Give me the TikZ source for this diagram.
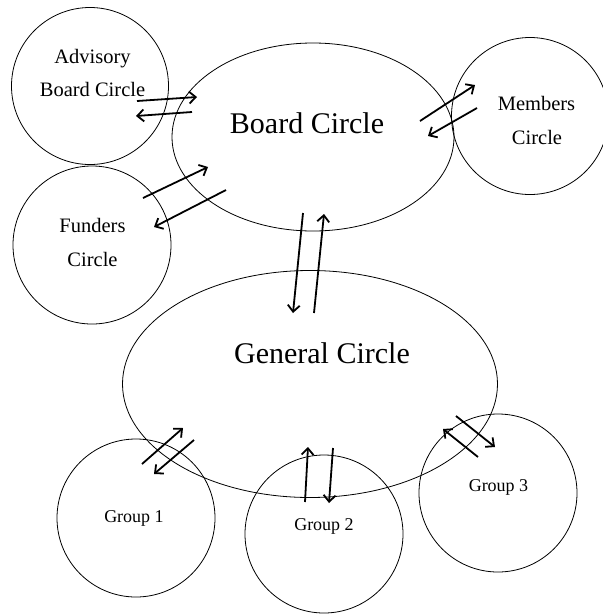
\documentclass[tikz,border=0pt]{standalone}
\usepackage{fontspec}
\setmainfont{Liberation Serif}
\usetikzlibrary{arrows.meta,shapes.geometric}
\begin{document}
\begin{tikzpicture}[x=1pt,y=-1pt,
  circ/.style={draw, line width=0.8pt, circle, minimum size=#1, inner sep=0pt},
  ell/.style={draw, line width=0.8pt, ellipse, inner sep=0pt},
  small/.style={font=\fontsize{20.5}{24}\selectfont, anchor=base, inner sep=0pt},
  big/.style={font=\fontsize{30}{34}\selectfont, anchor=base, inner sep=0pt},
  grp/.style={font=\fontsize{18}{22}\selectfont, anchor=base, inner sep=0pt},
  arr/.style={line width=1.8pt, -{Straight Barb[length=6.5pt,width=12pt]}}]
\useasboundingbox (0,0) rectangle (603,614);
% shapes
\node[ell, minimum width=282, minimum height=188] (board) at (313,137) {};
\node[ell, minimum width=375, minimum height=227] (general) at (310,384) {};
\node[circ=157] (adv) at (90,86) {};
\node[circ=158] (fund) at (92,245) {};
\node[circ=157] (mem) at (530,116) {};
\node[circ=158] (g1) at (136,518) {};
\node[circ=158] (g2) at (324,534) {};
\node[circ=158] (g3) at (498,493) {};
% labels
\node[small] (advA) at (92.5,63) {Advisory};
\node[small] (advB) at (92.5,96) {Board Circle};
\node[small] (fundA) at (92.5,232) {Funders};
\node[small] (fundB) at (92.5,266) {Circle};
\node[small] (memA) at (536.5,110) {Members};
\node[small] (memB) at (537,144) {Circle};
\node[big] (boardT) at (307,133) {Board Circle};
\node[big] (genT) at (322,363) {General Circle};
\node[grp] (g1T) at (134,522) {Group 1};
\node[grp] (g2T) at (324,530) {Group 2};
\node[grp] (g3T) at (498.5,491) {Group 3};
% arrow end points
\coordinate (a1s) at (137,101); \coordinate (a1e) at (197,97);
\coordinate (a2s) at (192,112); \coordinate (a2e) at (136,116);
\coordinate (f1s) at (143,198); \coordinate (f1e) at (208,167);
\coordinate (f2s) at (226,190); \coordinate (f2e) at (154,227);
\coordinate (m1s) at (420,121); \coordinate (m1e) at (475,85);
\coordinate (m2s) at (477,108); \coordinate (m2e) at (428,136);
\coordinate (b1s) at (303,213); \coordinate (b1e) at (293,313);
\coordinate (b2s) at (314,313); \coordinate (b2e) at (324,214);
\coordinate (h1s) at (142,464); \coordinate (h1e) at (183,428);
\coordinate (h2s) at (194,440); \coordinate (h2e) at (154,474);
\coordinate (k1s) at (305,502); \coordinate (k1e) at (308,447);
\coordinate (k2s) at (333,448); \coordinate (k2e) at (329,503);
\coordinate (t1s) at (456,416); \coordinate (t1e) at (495,447);
\coordinate (t2s) at (478,457); \coordinate (t2e) at (443,429);
% arrows
\draw[arr] (a1s) -- (a1e);
\draw[arr] (a2s) -- (a2e);
\draw[arr] (f1s) -- (f1e);
\draw[arr] (f2s) -- (f2e);
\draw[arr] (m1s) -- (m1e);
\draw[arr] (m2s) -- (m2e);
\draw[arr] (b1s) -- (b1e);
\draw[arr] (b2s) -- (b2e);
\draw[arr] (h1s) -- (h1e);
\draw[arr] (h2s) -- (h2e);
\draw[arr] (k1s) -- (k1e);
\draw[arr] (k2s) -- (k2e);
\draw[arr] (t1s) -- (t1e);
\draw[arr] (t2s) -- (t2e);
\end{tikzpicture}
\end{document}
